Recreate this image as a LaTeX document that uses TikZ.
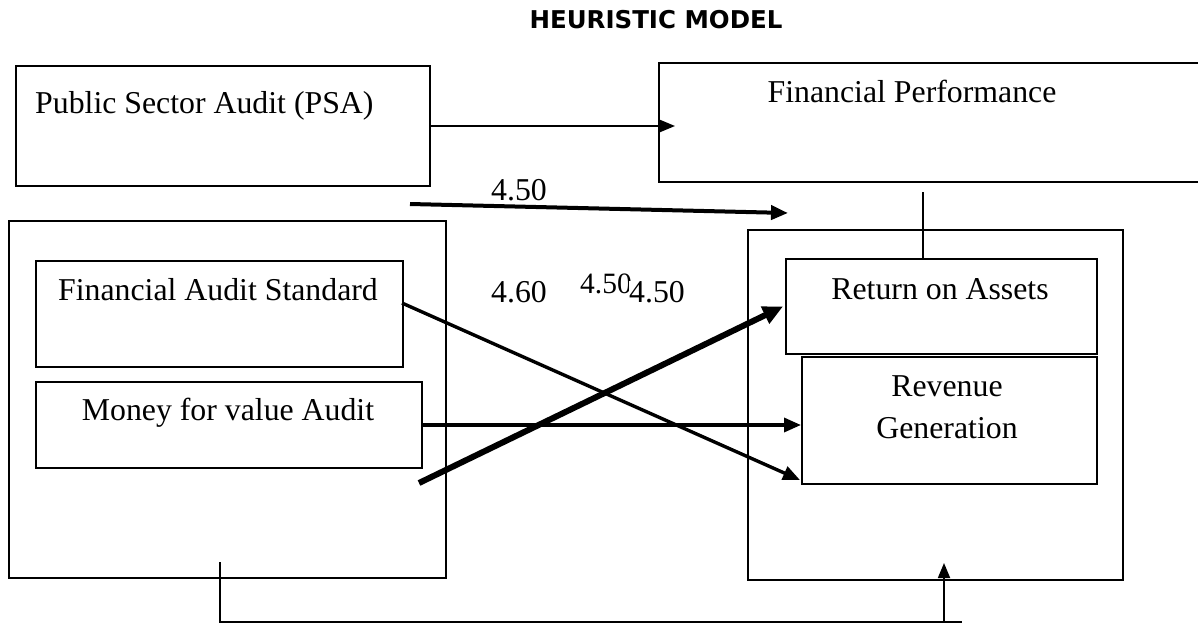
\documentclass[tikz,border=0pt]{standalone}
\usepackage{fontspec}
\setmainfont{Liberation Serif}
\newfontfamily\titlefont{DejaVu Sans}
\usetikzlibrary{arrows.meta,calc}
\begin{document}
\begin{tikzpicture}[x=1pt,y=-1pt,
  box/.style={draw,line width=2pt,inner sep=0pt,anchor=north west},
  outer/.style={draw,line width=1.6pt,inner sep=0pt,anchor=north west},
  txt/.style={inner sep=0pt,font=\fontsize{31.8}{50}\selectfont},
  arr/.style={-{Triangle[length=17pt,width=14pt]},line width=3.4pt},
  thickarr/.style={-{Triangle[length=20pt,width=18pt]},line width=6pt},
  thinarr/.style={-{Triangle[length=15pt,width=12pt]},line width=1.8pt},
  plain/.style={line width=1.6pt}]
\useasboundingbox (0,0) rectangle (1198,624);
% title
\node[inner sep=0pt,anchor=base,font=\titlefont\bfseries\fontsize{24.5}{28}\selectfont] (title) at (656,28) {HEURISTIC MODEL};
% boxes
\node[box,minimum width=414pt,minimum height=120pt] (psa) at (15,65) {};
\node[box,minimum width=540pt,minimum height=119pt] (fp) at (658,62) {};
\node[outer,minimum width=437pt,minimum height=357pt] (left) at (8,220) {};
\node[outer,minimum width=375pt,minimum height=350pt] (right) at (747,229) {};
\node[box,minimum width=367pt,minimum height=106pt] (fas) at (35,260) {};
\node[box,minimum width=386pt,minimum height=86pt] (mva) at (35,381) {};
\node[box,minimum width=311pt,minimum height=95pt] (roa) at (785,258) {};
\node[box,minimum width=295pt,minimum height=127pt] (rg) at (801,356) {};
% texts
\node[txt,anchor=base west] (psat) at (35,113) {Public Sector Audit (PSA)};
\node[txt,anchor=base] (fpt) at (912,102) {Financial Performance};
\node[txt,anchor=base] (fast) at (218,300) {Financial Audit Standard};
\node[txt,anchor=base] (mvat) at (228,420) {Money for value Audit};
\node[txt,anchor=base] (roat) at (940,299) {Return on Assets};
\node[txt,anchor=base] (rgt1) at (947,396) {Revenue};
\node[txt,anchor=base] (rgt2) at (947,438) {Generation};
% value labels
\node[txt,anchor=base] (v1) at (519,200) {4.50};
\node[txt,anchor=base] (v2) at (519,302) {4.60};
\node[inner sep=0pt,anchor=base,font=\fontsize{29.5}{34}\selectfont] (v3) at (606,293) {4.50};
\node[txt,fill=white,anchor=base,inner xsep=0pt] (v4) at (657,302) {4.50};
% connectors
\draw[thinarr] (psa.east) -- ([xshift=17pt]psa.east -| fp.west);
\coordinate (a1s) at (410,204);
\coordinate (a1e) at (788,213);
\draw[arr,line width=4pt] (a1s) -- (a1e);
\coordinate (fpb) at (923,192);
\draw[line width=2.8pt] (fpb) -- (fpb |- roa.north);
\coordinate (fasr) at (402,303);
\coordinate (rgl) at (800,480);
\draw[arr] (fasr) -- (rgl);
\draw[arr] (mva.east) -- (mva.east -| rg.west);
\coordinate (thk) at (419,483);
\draw[thickarr] (thk) -- ([xshift=-2pt]roa.west);
% bottom loop
\coordinate (b1) at (220,562);
\coordinate (b2) at (962,622);
\coordinate (b3) at (944,622);
\draw[plain] (b1) -- (b1 |- b2) -- (b2);
\draw[thinarr] (b3) -- (b3 |- 0,563);
\end{tikzpicture}
\end{document}
